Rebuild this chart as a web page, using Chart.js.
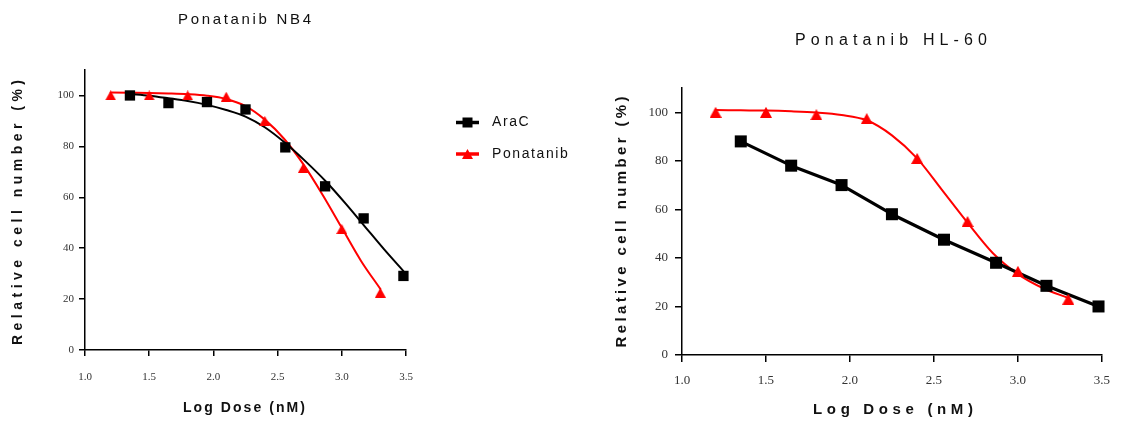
<!DOCTYPE html>
<html>
<head>
<meta charset="utf-8">
<script src="https://cdn.jsdelivr.net/npm/chart.js@4.4.1/dist/chart.umd.min.js"></script>
<style>
  html, body { margin: 0; padding: 0; background: #fff; }
  #wrap { position: relative; width: 1121px; height: 423px; overflow: hidden; }
  canvas { position: absolute; top: 0; }
</style>
</head>
<body>
<div id="wrap">
  <canvas id="nb4" width="580" height="423" style="left:0"></canvas>
  <canvas id="hl60" width="541" height="423" style="left:580px"></canvas>
</div>
<script>
// Log dose (nM) at which each drug was measured
const doseAraC = [1.35, 1.65, 1.95, 2.25, 2.56, 2.87, 3.17, 3.48];
const dosePona = [1.2, 1.5, 1.8, 2.1, 2.4, 2.7, 3.0, 3.3];

// Relative cell number (%) — NB4 cells
const nb4AraC = [100, 97, 97.4, 94.5, 79.6, 64.3, 51.7, 29.1];
const nb4Pona = [100, 100, 100, 99.5, 90, 71.5, 47.5, 22.5];

// Relative cell number (%) — HL-60 cells
const hl60AraC = [88, 78, 70, 58, 47.5, 38, 28.5, 20];
const hl60Pona = [100, 100, 99, 97.4, 81, 55, 34.5, 23];

// Fitted dose-response curves
const fitDoseAraC = [1.35, 1.5, 1.65, 1.8, 1.95, 2.1, 2.25, 2.4, 2.56, 2.72, 2.88, 3.03, 3.18, 3.33, 3.48];
const nb4AraCFit = [100.6, 99.9, 98.9, 97.8, 96.3, 94.3, 91.7, 87.5, 81.3, 74, 66, 57.5, 48.5, 39.5, 31];
const fitDosePona = [1.2, 1.35, 1.5, 1.65, 1.8, 1.95, 2.1, 2.25, 2.4, 2.55, 2.7, 2.85, 3.0, 3.15, 3.3];
const nb4PonaFit = [101.2, 101.1, 101, 100.8, 100.5, 99.9, 98.6, 95.8, 90.5, 83, 73, 61, 48, 35, 24];
const hl60PonaFit = [100.9, 100.8, 100.7, 100.4, 99.9, 98.9, 96.7, 90.5, 81, 67.8, 54.5, 42, 33.3, 27.5, 23.5];

// Axis ticks
const xTicks = [1.0, 1.5, 2.0, 2.5, 3.0, 3.5];
const yTicks = [0, 20, 40, 60, 80, 100];

const seriesNames = ['AraC', 'Ponatanib'];
const BLACK = '#000000';
const RED = '#ff0000';

const pts = (xs, ys) => xs.map((x, i) => ({ x, y: ys[i] }));

// Filled triangle sprite, centred on its bounding box
function triangleSprite(w, h, color) {
  const c = document.createElement('canvas');
  c.width = Math.ceil(w); c.height = Math.ceil(h);
  const g = c.getContext('2d');
  g.fillStyle = color;
  g.beginPath();
  g.moveTo(c.width / 2, 0);
  g.lineTo(c.width, c.height);
  g.lineTo(0, c.height);
  g.closePath();
  g.fill();
  return c;
}

// Draws text with even letter tracking; either fit to a width or use a fixed gap
function tracked(ctx, text, x, y, opts) {
  ctx.save();
  ctx.font = opts.font;
  ctx.fillStyle = opts.color || '#000';
  ctx.textBaseline = 'middle';
  ctx.textAlign = 'left';
  const chars = [...text];
  const w = chars.map(c => ctx.measureText(c).width);
  const base = w.reduce((a, b) => a + b, 0);
  const gap = opts.width != null ? (opts.width - base) / (chars.length - 1) : (opts.gap || 0);
  const total = base + gap * (chars.length - 1);
  ctx.translate(x, y);
  if (opts.rotate) ctx.rotate(-Math.PI / 2);
  let cx = opts.align === 'left' ? 0 : -total / 2;
  chars.forEach((c, i) => { ctx.fillText(c, cx, 0); cx += w[i] + gap; });
  ctx.restore();
}

function legendMarker(ctx, style, x, y, color) {
  ctx.save();
  ctx.fillStyle = color;
  if (style === 'rect') {
    ctx.fillRect(x - 5, y - 5, 10, 10);
  } else {
    ctx.drawImage(style, x - style.width / 2, y - style.height / 2);
  }
  ctx.restore();
}

function textPlugin(items, legend) {
  return {
    id: 'panelText',
    afterDraw(chart) {
      const ctx = chart.ctx;
      items.forEach(t => tracked(ctx, t.text, t.x, t.y, t));
      if (legend) {
        legend.rows.forEach((row, i) => {
          const ds = chart.data.datasets[i];
          ctx.save();
          ctx.strokeStyle = ds.borderColor;
          ctx.lineWidth = 3.5;
          ctx.beginPath();
          ctx.moveTo(legend.x0, row.y);
          ctx.lineTo(legend.x1, row.y);
          ctx.stroke();
          ctx.restore();
          legendMarker(ctx, ds.pointStyle, (legend.x0 + legend.x1) / 2, row.y, ds.backgroundColor);
          tracked(ctx, seriesNames[i], legend.tx, row.y, { font: '14px "Liberation Sans", Arial, sans-serif', color: '#111', gap: 1.6, align: 'left' });
        });
      }
    }
  };
}

function scales(o) {
  return {
    x: {
      type: 'linear', min: 1.0, max: 3.5,
      afterFit: s => { s.height = o.xHeight; },
      afterBuildTicks: s => { s.ticks = xTicks.map(v => ({ value: v })); },
      ticks: {
        color: '#333', padding: o.xPad,
        font: { family: '"Liberation Serif", "Times New Roman", serif', size: o.tickSize },
        callback: v => Number(v).toFixed(1)
      },
      grid: { drawOnChartArea: false, drawTicks: true, tickLength: o.tickLen, color: BLACK, lineWidth: 1.5 },
      border: { display: true, color: BLACK, width: 1.5 }
    },
    y: {
      type: 'linear', min: 0, max: 110,
      afterFit: s => { s.width = o.yWidth; },
      afterBuildTicks: s => { s.ticks = yTicks.map(v => ({ value: v })); },
      ticks: {
        color: '#333', padding: o.yPad,
        font: { family: '"Liberation Serif", "Times New Roman", serif', size: o.tickSize },
        callback: v => String(v)
      },
      grid: { drawOnChartArea: false, drawTicks: true, tickLength: o.tickLen, color: BLACK, lineWidth: 1.5 },
      border: { display: true, color: BLACK, width: 1.5 }
    }
  };
}

function markers(xs, ys, style, color, r, order) {
  return {
    data: pts(xs, ys), showLine: false, pointStyle: style, pointRadius: r,
    backgroundColor: color, borderColor: color, pointBorderWidth: 0, order, clip: false
  };
}
function curve(xs, ys, color, width, smooth, order) {
  return {
    data: pts(xs, ys), showLine: true, pointRadius: 0, borderColor: color,
    backgroundColor: color, borderWidth: width, fill: false, order, clip: false,
    cubicInterpolationMode: smooth ? 'monotone' : 'default', tension: 0
  };
}

const common = {
  responsive: false, animation: false,
  plugins: { legend: { display: false }, tooltip: { enabled: false }, title: { display: false } },
  elements: { line: { borderCapStyle: 'round', borderJoinStyle: 'round' } }
};

const triSmall = triangleSprite(11, 10, RED);
const triLarge = triangleSprite(12, 11, RED);

// NB4 panel
new Chart(document.getElementById('nb4'), {
  type: 'scatter',
  data: {
    datasets: [
      markers(doseAraC, nb4AraC, 'rect', BLACK, 7.3, 0),
      markers(dosePona, nb4Pona, triSmall, RED, 6, 1),
      curve(fitDoseAraC, nb4AraCFit, BLACK, 2, true, 2),
      curve(fitDosePona, nb4PonaFit, RED, 2, true, 3)
    ]
  },
  options: Object.assign({}, common, {
    layout: { padding: { left: 0, right: 174, top: 70, bottom: 0 } },
    scales: scales({ xHeight: 73, yWidth: 85, tickLen: 6, xPad: 15, yPad: 5, tickSize: 11 })
  }),
  plugins: [textPlugin([
    { text: 'Ponatanib NB4', x: 244.5, y: 20, width: 133, font: '15px "Liberation Sans", Arial, sans-serif', color: '#111' },
    { text: 'Relative cell number (%)', x: 18, y: 212.5, width: 265, rotate: true, font: 'bold 14px "Liberation Sans", Arial, sans-serif', color: '#111' },
    { text: 'Log Dose (nM)', x: 244, y: 408, width: 122, font: 'bold 14px "Liberation Sans", Arial, sans-serif', color: '#111' }
  ], { x0: 456, x1: 479, tx: 492, rows: [{ y: 122.5 }, { y: 154 }] })]
});

// HL-60 panel
new Chart(document.getElementById('hl60'), {
  type: 'scatter',
  data: {
    datasets: [
      markers(doseAraC, hl60AraC, 'rect', BLACK, 8.5, 0),
      markers(dosePona, hl60Pona, triLarge, RED, 6, 1),
      curve(doseAraC, hl60AraC, BLACK, 3.2, false, 2),
      curve(fitDosePona, hl60PonaFit, RED, 2, true, 3)
    ]
  },
  options: Object.assign({}, common, {
    layout: { padding: { left: 0, right: 15, top: 88, bottom: 0 } },
    scales: scales({ xHeight: 68, yWidth: 102, tickLen: 7, xPad: 11, yPad: 7, tickSize: 13 })
  }),
  plugins: [textPlugin([
    { text: 'Ponatanib HL-60', x: 311, y: 41, width: 192, font: '16px "Liberation Sans", Arial, sans-serif', color: '#111' },
    { text: 'Relative cell number (%)', x: 42, y: 222, width: 251, rotate: true, font: 'bold 15px "Liberation Sans", Arial, sans-serif', color: '#111' },
    { text: 'Log Dose (nM)', x: 313, y: 410, width: 160, font: 'bold 15px "Liberation Sans", Arial, sans-serif', color: '#111' }
  ])]
});
</script>
</body>
</html>
